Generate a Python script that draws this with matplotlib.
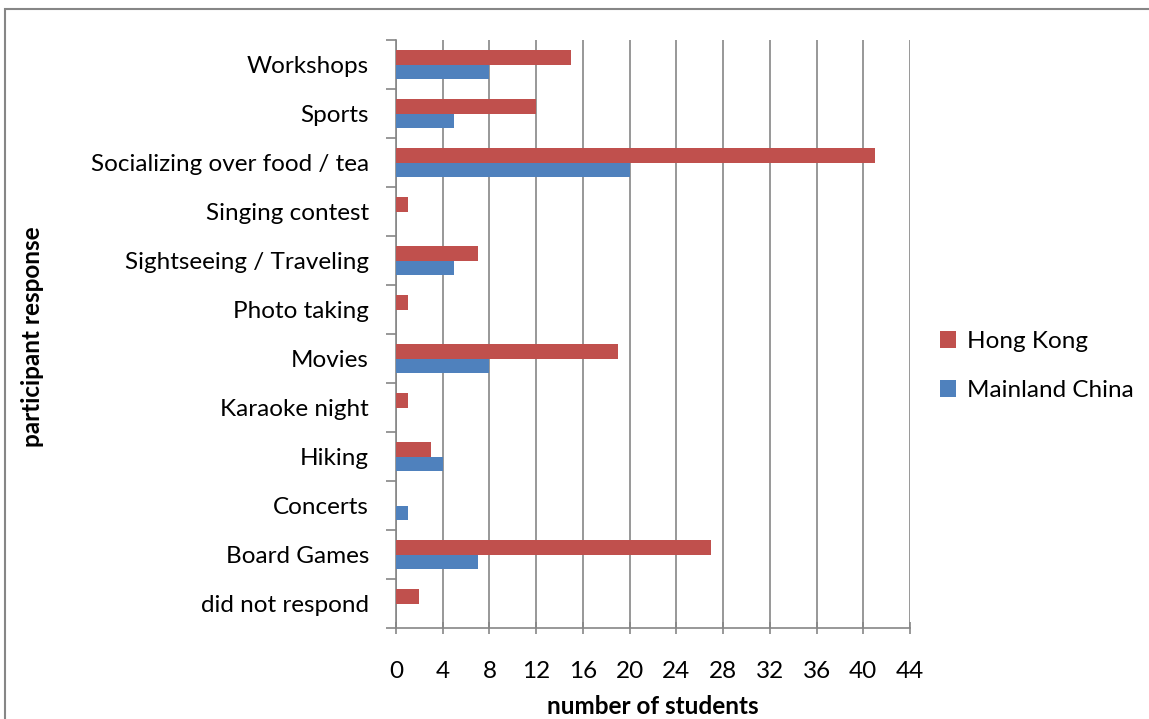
import matplotlib
matplotlib.use("Agg")
import matplotlib.pyplot as plt
import numpy as np
from matplotlib.patches import Rectangle

categories = ["did not respond", "Board Games", "Concerts", "Hiking", "Karaoke night",
              "Movies", "Photo taking", "Sightseeing / Traveling", "Singing contest",
              "Socializing over food / tea", "Sports", "Workshops"]
hong_kong = [2, 27, 0, 3, 1, 19, 1, 7, 1, 41, 12, 15]
mainland = [0, 7, 1, 4, 0, 8, 0, 5, 0, 20, 5, 8]
xticks = list(range(0, 45, 4))

plt.rcParams['font.family'] = ['Lato', 'DejaVu Sans']
FS = 17.5

W, H = 1149, 719
fig = plt.figure(figsize=(W/100, H/100), dpi=100)
ax = fig.add_axes([396/W, 1-628/H, (910-396)/W, (628-40)/H])

y = np.arange(len(categories))
bh = 0.29
red = "#C0504D"
blue = "#4F81BD"
ax.barh(y + bh/2, hong_kong, height=bh, color=red, linewidth=0, label="Hong Kong", zorder=3)
ax.barh(y - bh/2, mainland, height=bh, color=blue, linewidth=0, label="Mainland China", zorder=3)

ax.set_xlim(0, 44)
ax.set_ylim(-0.5, len(categories) - 0.5)
ax.set_xticks(xticks)
ax.set_xticklabels([str(t) for t in xticks], fontsize=FS)
ax.set_yticks(y)
ax.set_yticklabels(categories, fontsize=FS)
ax.set_yticks(np.arange(-0.5, len(categories), 1), minor=True)
ax.tick_params(axis='y', which='major', length=0, pad=19.5)
ax.tick_params(axis='y', which='minor', length=7, color="#868686", width=1.2)
ax.tick_params(axis='x', which='major', length=8, color="#868686", width=1.2, pad=20, direction='inout')
ax.grid(axis='x', color="#868686", linewidth=1.2, zorder=0)
for s in ['top', 'right']:
    ax.spines[s].set_visible(False)
for s in ['left', 'bottom']:
    ax.spines[s].set_color("#868686")
    ax.spines[s].set_linewidth(1.2)

fig.text(653/W, 1-706/H, "number of students", fontsize=FS, fontweight='bold', ha='center', va='center')
fig.text(33/W, 1-337/H, "participant response", rotation=90, fontsize=FS, fontweight='bold', ha='center', va='center')

leg = fig.legend(loc='center left', bbox_to_anchor=(940/W, 1-366/H), frameon=False, fontsize=FS,
                 handlelength=0.65, handleheight=0.65, handletextpad=0.45, labelspacing=1.15,
                 borderaxespad=0, borderpad=0)

fig.patches.append(Rectangle((5/W, -0.1), 1.2, 1 - 9/H + 0.1, transform=fig.transFigure,
                             fill=False, edgecolor="#868686", linewidth=1.5))

fig.savefig("out.png", dpi=100)
